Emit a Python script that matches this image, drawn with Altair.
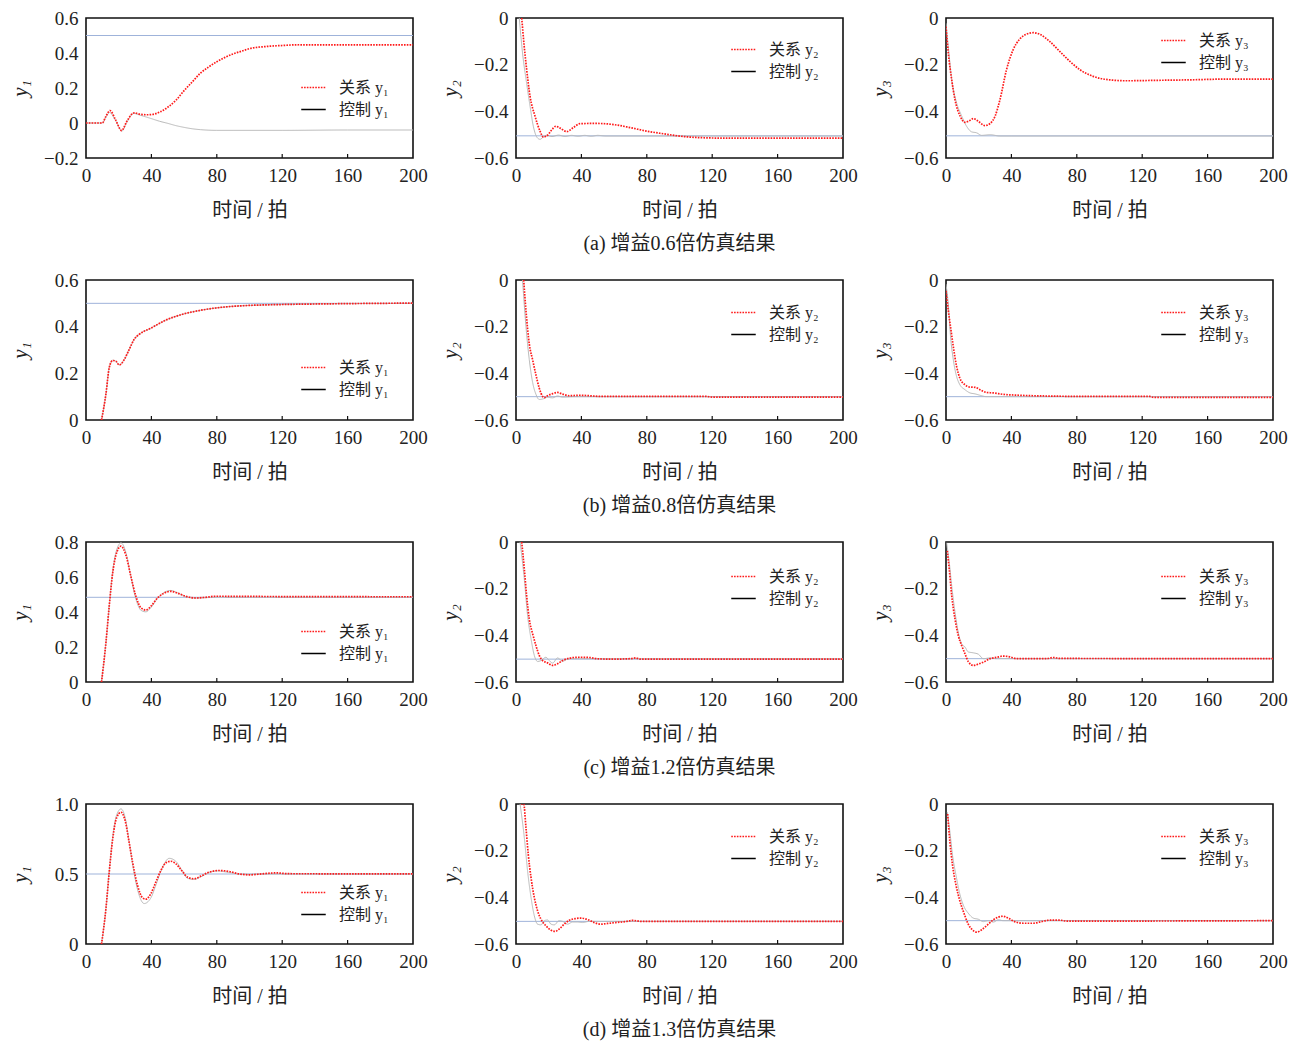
import altair as alt
import pandas as pd

SERIF = "Liberation Serif, Noto Sans CJK SC, serif"

X_TICKS = [0, 40, 80, 120, 160, 200]
INNER_TICKS = [40, 80, 120, 160]
X_TITLE = "时间 / 拍"
CAPTIONS = ["(a)  增益0.6倍仿真结果", "(b)  增益0.8倍仿真结果",
            "(c)  增益1.2倍仿真结果", "(d)  增益1.3倍仿真结果"]
SUB = {1: "₁", 2: "₂", 3: "₃"}

# ---------------- row (a) gain 0.6 ----------------
A1_REL_T = [0, 10, 12, 14.7, 18, 21.8, 25, 29.5, 33, 37, 40, 45, 50, 55, 60, 65, 70, 75, 80, 85, 90, 95, 100, 110, 120, 130, 200]
A1_REL_V = [0, 0, 0.035, 0.071, 0.02, -0.043, 0.01, 0.058, 0.05, 0.047, 0.048, 0.062, 0.09, 0.13, 0.185, 0.235, 0.285, 0.32, 0.35, 0.375, 0.395, 0.41, 0.425, 0.437, 0.443, 0.447, 0.447]
A1_CTL_T = [0, 10, 12, 14.5, 18, 22, 25, 29, 33, 40, 45, 50, 55, 60, 65, 70, 80, 90, 120, 160, 200]
A1_CTL_V = [0, 0, 0.03, 0.06, 0.015, -0.045, 0.005, 0.055, 0.045, 0.025, 0.01, -0.002, -0.015, -0.025, -0.033, -0.038, -0.042, -0.042, -0.042, -0.04, -0.04]
A1_SET = 0.5

A2_REL_T = [3.5, 5, 6.5, 8.6, 11.6, 14.7, 16.7, 18.7, 21.8, 24.4, 27, 31, 35, 39, 45, 50, 60, 70, 80, 90, 100, 110, 130, 200]
A2_REL_V = [0, -0.12, -0.22, -0.336, -0.42, -0.485, -0.51, -0.506, -0.48, -0.464, -0.472, -0.487, -0.47, -0.453, -0.452, -0.452, -0.457, -0.47, -0.485, -0.496, -0.506, -0.512, -0.515, -0.515]
A2_CTL_T = [2, 4, 6.5, 8.6, 10.6, 13, 14.7, 16.7, 18.7, 22, 26, 30, 34, 38, 42, 46, 50, 55, 60, 200]
A2_CTL_V = [0, -0.15, -0.28, -0.378, -0.464, -0.513, -0.52, -0.51, -0.503, -0.508, -0.502, -0.508, -0.503, -0.507, -0.503, -0.507, -0.503, -0.506, -0.506, -0.506]
A2_SET = -0.505

A3_REL_T = [0, 1.4, 3.5, 5.5, 8.6, 11.6, 13.6, 16.7, 19.8, 23.8, 27, 30, 33, 37, 41, 45, 49, 53.4, 57.4, 63.5, 69.7, 75.8, 82, 90, 100, 110, 130, 150, 170, 200]
A3_REL_V = [-0.037, -0.15, -0.265, -0.35, -0.42, -0.447, -0.443, -0.431, -0.443, -0.461, -0.452, -0.421, -0.35, -0.222, -0.137, -0.091, -0.07, -0.063, -0.07, -0.101, -0.144, -0.186, -0.222, -0.25, -0.265, -0.269, -0.267, -0.265, -0.262, -0.262]
A3_CTL_T = [0, 1.4, 3.5, 6.5, 9.6, 12.6, 15.7, 18.7, 21.8, 27, 33, 40, 200]
A3_CTL_V = [-0.023, -0.122, -0.265, -0.364, -0.42, -0.464, -0.488, -0.492, -0.503, -0.5, -0.506, -0.506, -0.506]
A3_SET = -0.505

# ---------------- row (b) gain 0.8 ----------------
B1_REL_T = [9.5, 12.2, 14.2, 16.3, 18.3, 20.3, 23.4, 26.4, 29.5, 32.5, 39.5, 48.8, 59, 69.2, 79.3, 89.5, 99.7, 120, 150, 200]
B1_REL_V = [0, 0.112, 0.224, 0.255, 0.252, 0.236, 0.259, 0.302, 0.346, 0.367, 0.393, 0.428, 0.453, 0.469, 0.48, 0.487, 0.491, 0.495, 0.498, 0.501]
B1_CTL_T = [9.5, 12.2, 14.2, 16.3, 18.3, 20.3, 23.4, 26.4, 29.5, 32.5, 39.5, 48.8, 59, 69.2, 79.3, 89.5, 99.7, 120, 150, 200]
B1_CTL_V = [0, 0.112, 0.224, 0.256, 0.252, 0.236, 0.259, 0.302, 0.346, 0.367, 0.393, 0.428, 0.453, 0.469, 0.48, 0.487, 0.491, 0.495, 0.498, 0.5]
B1_SET = 0.5

B2_REL_T = [4.7, 6.1, 8.1, 10.2, 12.2, 14.2, 16.3, 17.3, 19.3, 22.4, 25.4, 28.5, 32.6, 38.7, 53, 116, 120, 200]
B2_REL_V = [0, -0.131, -0.273, -0.343, -0.407, -0.463, -0.499, -0.504, -0.496, -0.487, -0.482, -0.489, -0.496, -0.494, -0.499, -0.499, -0.502, -0.502]
B2_CTL_T = [4, 6.1, 8.1, 10.2, 12.2, 14.2, 16.3, 19.3, 22.4, 25.4, 28.5, 35, 200]
B2_CTL_V = [0, -0.2, -0.34, -0.44, -0.49, -0.512, -0.51, -0.503, -0.505, -0.497, -0.502, -0.5, -0.5]
B2_SET = -0.5

B3_REL_T = [0, 1.4, 2.8, 4.5, 6.5, 8.5, 11.6, 14.7, 17.7, 20.8, 24.8, 28.9, 35, 45, 59.5, 90, 124.6, 127, 200]
B3_REL_V = [-0.047, -0.131, -0.202, -0.287, -0.371, -0.421, -0.449, -0.459, -0.46, -0.47, -0.482, -0.484, -0.49, -0.494, -0.497, -0.499, -0.499, -0.503, -0.503]
B3_CTL_T = [0, 1.4, 2.8, 4.5, 6.5, 8.5, 11.6, 14.7, 17.7, 20.8, 24.8, 40, 200]
B3_CTL_V = [-0.018, -0.103, -0.244, -0.343, -0.414, -0.449, -0.47, -0.484, -0.488, -0.494, -0.5, -0.5, -0.5]
B3_SET = -0.5

# ---------------- row (c) gain 1.2 ----------------
C1_REL_T = [9.5, 12.2, 14.2, 16.3, 18.3, 21.4, 24.4, 27.5, 30.5, 33.6, 36.6, 39.7, 43.7, 47.8, 51.9, 55.9, 61, 67.1, 73.2, 79.3, 100, 200]
C1_REL_V = [0, 0.226, 0.433, 0.621, 0.725, 0.776, 0.725, 0.602, 0.49, 0.424, 0.411, 0.433, 0.48, 0.508, 0.518, 0.508, 0.49, 0.48, 0.484, 0.49, 0.489, 0.487]
C1_CTL_T = [9.5, 12.2, 14.2, 16.3, 18.3, 21.4, 24.4, 27.5, 30.5, 33.6, 36.6, 39.7, 43.7, 47.8, 51.9, 55.9, 61, 67.1, 73.2, 80, 200]
C1_CTL_V = [0, 0.226, 0.433, 0.63, 0.74, 0.795, 0.74, 0.6, 0.475, 0.41, 0.401, 0.425, 0.478, 0.512, 0.523, 0.51, 0.488, 0.479, 0.482, 0.484, 0.484]
C1_SET = 0.484

C2_REL_T = [3.5, 5.1, 6.5, 8.1, 10.2, 12.2, 14.2, 16.3, 19.3, 22.4, 25.4, 28.5, 32.6, 38.7, 44.8, 50.9, 60, 70, 73.2, 76, 200]
C2_REL_V = [0, -0.117, -0.23, -0.33, -0.394, -0.444, -0.486, -0.508, -0.518, -0.529, -0.522, -0.508, -0.498, -0.494, -0.495, -0.501, -0.502, -0.5, -0.497, -0.502, -0.502]
C2_CTL_T = [2.5, 5.1, 7.1, 9.2, 11.2, 13.2, 15.3, 18.3, 20.3, 22.4, 25.4, 28.5, 31.5, 34.6, 200]
C2_CTL_V = [0, -0.16, -0.316, -0.415, -0.486, -0.512, -0.508, -0.494, -0.508, -0.519, -0.497, -0.511, -0.502, -0.5, -0.5]
C2_SET = -0.502

C3_REL_T = [0.8, 2, 3.5, 5.5, 7.5, 9.6, 11.6, 13.6, 16.7, 19.8, 22.8, 27, 31, 35, 39, 43.2, 50, 61.5, 65.6, 69.7, 200]
C3_REL_V = [-0.038, -0.117, -0.23, -0.33, -0.401, -0.444, -0.479, -0.512, -0.529, -0.523, -0.515, -0.5, -0.494, -0.489, -0.492, -0.5, -0.5, -0.5, -0.495, -0.499, -0.5]
C3_CTL_T = [0.4, 2, 3.5, 5.5, 7.5, 9.6, 11.6, 13.6, 16.7, 19.8, 22.8, 27, 31, 200]
C3_CTL_V = [-0.003, -0.088, -0.188, -0.3, -0.387, -0.437, -0.45, -0.471, -0.475, -0.481, -0.5, -0.497, -0.5, -0.5]
C3_SET = -0.5

# ---------------- row (d) gain 1.3 ----------------
D1_REL_T = [9.5, 12.2, 14.2, 16.3, 18.7, 21.4, 24, 26.4, 28.5, 31.5, 34.6, 36.6, 39.7, 42.7, 45.8, 48.8, 51.9, 55, 59, 62, 66.1, 70.2, 75.3, 81.4, 87.5, 93.6, 99.7, 107.8, 116, 124, 200]
D1_REL_V = [0, 0.254, 0.513, 0.748, 0.901, 0.941, 0.878, 0.725, 0.584, 0.419, 0.33, 0.32, 0.36, 0.442, 0.525, 0.579, 0.591, 0.572, 0.518, 0.478, 0.466, 0.485, 0.513, 0.525, 0.518, 0.501, 0.494, 0.501, 0.508, 0.502, 0.501]
D1_CTL_T = [9.5, 12.2, 14.2, 16.3, 18.7, 21.4, 24, 26.4, 28.5, 31.5, 35.6, 39.7, 42.7, 45.8, 50.9, 55, 59, 62, 66.1, 70.2, 75.3, 80, 88, 95, 110, 200]
D1_CTL_V = [0, 0.254, 0.52, 0.76, 0.92, 0.965, 0.9, 0.73, 0.57, 0.39, 0.289, 0.33, 0.42, 0.52, 0.612, 0.59, 0.52, 0.47, 0.461, 0.48, 0.51, 0.522, 0.51, 0.498, 0.5, 0.5]
D1_SET = 0.5

D2_REL_T = [3, 4.7, 6.1, 7.5, 9.2, 11.2, 13.2, 15.3, 18.3, 21.4, 24, 26.4, 29.5, 32.6, 36.6, 39.7, 43.7, 47.8, 51.9, 56, 61, 67.1, 71.2, 77, 200]
D2_REL_V = [0, 0, -0.102, -0.216, -0.316, -0.401, -0.458, -0.494, -0.522, -0.541, -0.546, -0.536, -0.515, -0.498, -0.491, -0.489, -0.495, -0.508, -0.515, -0.512, -0.508, -0.504, -0.499, -0.503, -0.503]
D2_CTL_T = [2.5, 5.1, 7.1, 9.2, 11.2, 13.2, 15.3, 17.3, 19.3, 21.4, 23.4, 26.4, 28.5, 31.5, 34.6, 37.6, 40.7, 44.8, 200]
D2_CTL_V = [0, -0.145, -0.288, -0.401, -0.479, -0.515, -0.518, -0.5, -0.497, -0.515, -0.518, -0.5, -0.503, -0.515, -0.506, -0.506, -0.508, -0.503, -0.503]
D2_SET = -0.503

D3_REL_T = [1, 2.4, 4, 6.1, 8.6, 11, 13.6, 16.1, 18.7, 21.8, 24.8, 29, 32, 35, 38, 42, 47.3, 53.4, 58.4, 63.5, 69.7, 74, 200]
D3_REL_V = [-0.043, -0.163, -0.262, -0.347, -0.418, -0.468, -0.515, -0.539, -0.549, -0.539, -0.522, -0.496, -0.485, -0.481, -0.489, -0.504, -0.511, -0.511, -0.504, -0.498, -0.498, -0.502, -0.5]
D3_CTL_T = [0.8, 2.4, 4, 6.1, 8.6, 11, 13.6, 16.7, 19.8, 22.8, 26, 29, 32, 35, 38, 200]
D3_CTL_V = [-0.035, -0.121, -0.22, -0.305, -0.39, -0.44, -0.468, -0.489, -0.494, -0.504, -0.5, -0.506, -0.496, -0.5, -0.5, -0.5]
D3_SET = -0.5

# y-axis domains / ticks
Y_A1 = ([-0.2, 0.6], [-0.2, 0, 0.2, 0.4, 0.6])
Y_B1 = ([0, 0.6], [0, 0.2, 0.4, 0.6])
Y_C1 = ([0, 0.8], [0, 0.2, 0.4, 0.6, 0.8])
Y_D1 = ([0, 1.0], [0, 0.5, 1.0])
Y_NEG = ([-0.6, 0], [-0.6, -0.4, -0.2, 0])

W, H = 327, 140

RED = "#ff1a1a"
GRAY = "#b9b9b9"
BLUE = "#9fb3da"


def panel(rel_t, rel_v, ctl_t, ctl_v, sp, ydef, k, leg_y, caption=None):
    rel_name = f"关系 y{SUB[k]}"
    ctl_name = f"控制 y{SUB[k]}"
    df_rel = pd.DataFrame({"t": rel_t, "v": rel_v, "s": rel_name})
    df_ctl = pd.DataFrame({"t": ctl_t, "v": ctl_v, "s": ctl_name})
    dom, ticks = ydef

    x = alt.X("t:Q", scale=alt.Scale(domain=[0, 200], nice=False, zero=False),
              axis=alt.Axis(values=X_TICKS, tickCount=20, format="d", title=X_TITLE))
    y = alt.Y("v:Q", scale=alt.Scale(domain=dom, nice=False, zero=False),
              axis=alt.Axis(values=ticks, tickCount=20, labelOverlap=False, title=f"y{SUB[k]}",
                            labelExpr="datum.value == 0 ? '0' : format(datum.value, '.1f')"))
    leg = alt.Legend(title=None, orient="none", legendX=214, legendY=leg_y,
                     symbolType="stroke", symbolSize=600, symbolStrokeWidth=1.6,
                     labelFont=SERIF, labelFontSize=16, labelOffset=12, rowPadding=0,
                     labelColor="#222")
    dom_s = [rel_name, ctl_name]
    color = alt.Color("s:N", scale=alt.Scale(domain=dom_s, range=[RED, "#000000"]), legend=leg)
    dash = alt.StrokeDash("s:N", scale=alt.Scale(domain=dom_s, range=[[1.6, 1.2], [1, 0]]), legend=leg)

    setline = alt.Chart(pd.DataFrame({"sp": [sp]})).mark_rule(color=BLUE, strokeWidth=1).encode(
        y=alt.Y("sp:Q"))
    ctl = alt.Chart(df_ctl).mark_line(interpolate="monotone", strokeWidth=1, clip=True).encode(
        x=x, y=y, color=alt.value(GRAY), strokeDash=dash)
    rel = alt.Chart(df_rel).mark_line(interpolate="monotone", strokeWidth=1.7, clip=True).encode(
        x=x, y=y, color=color, strokeDash=dash)
    inner = alt.Chart(pd.DataFrame({"t": INNER_TICKS})).mark_rule(color="#111", strokeWidth=1.2).encode(
        x=alt.X("t:Q"), y=alt.value(H), y2=alt.value(H - 4))

    ch = alt.layer(setline, ctl, rel, inner).properties(width=W, height=H)
    if caption:
        ch = ch.properties(title=alt.TitleParams(caption, orient="bottom", font=SERIF, fontSize=20,
                                                 fontWeight="normal", offset=14, anchor="middle",
                                                 color="#222"))
    return ch


panels = [
    panel(A1_REL_T, A1_REL_V, A1_CTL_T, A1_CTL_V, A1_SET, Y_A1, 1, 56),
    panel(A2_REL_T, A2_REL_V, A2_CTL_T, A2_CTL_V, A2_SET, Y_NEG, 2, 18, CAPTIONS[0]),
    panel(A3_REL_T, A3_REL_V, A3_CTL_T, A3_CTL_V, A3_SET, Y_NEG, 3, 9),
    panel(B1_REL_T, B1_REL_V, B1_CTL_T, B1_CTL_V, B1_SET, Y_B1, 1, 74),
    panel(B2_REL_T, B2_REL_V, B2_CTL_T, B2_CTL_V, B2_SET, Y_NEG, 2, 19, CAPTIONS[1]),
    panel(B3_REL_T, B3_REL_V, B3_CTL_T, B3_CTL_V, B3_SET, Y_NEG, 3, 19),
    panel(C1_REL_T, C1_REL_V, C1_CTL_T, C1_CTL_V, C1_SET, Y_C1, 1, 76),
    panel(C2_REL_T, C2_REL_V, C2_CTL_T, C2_CTL_V, C2_SET, Y_NEG, 2, 21, CAPTIONS[2]),
    panel(C3_REL_T, C3_REL_V, C3_CTL_T, C3_CTL_V, C3_SET, Y_NEG, 3, 21),
    panel(D1_REL_T, D1_REL_V, D1_CTL_T, D1_CTL_V, D1_SET, Y_D1, 1, 75),
    panel(D2_REL_T, D2_REL_V, D2_CTL_T, D2_CTL_V, D2_SET, Y_NEG, 2, 19, CAPTIONS[3]),
    panel(D3_REL_T, D3_REL_V, D3_CTL_T, D3_CTL_V, D3_SET, Y_NEG, 3, 19),
]

chart = alt.concat(*panels, columns=3, spacing={"row": 122, "column": 103}, bounds="flush").resolve_scale(
    x="independent", y="independent", color="independent", strokeDash="independent"
).resolve_legend(color="independent", strokeDash="independent").configure_view(
    stroke="#111", strokeWidth=1.6
).configure_axis(
    domain=False, ticks=False, grid=False, labelOverlap=False,
    labelFont="Liberation Serif", labelFontSize=19, labelColor="#222", labelPadding=8, labelFlush=False,
    titleFont=SERIF, titleFontSize=20, titleFontWeight="normal", titleColor="#222"
).configure_axisX(
    titlePadding=15
).configure_axisY(
    titleFont="Liberation Serif", titleFontStyle="italic", titleFontSize=21, titleX=-56
).properties(padding={"left": 0, "top": 0, "right": 5, "bottom": 0})

chart.save("out.html", embed_options={"renderer": "svg", "actions": False})
